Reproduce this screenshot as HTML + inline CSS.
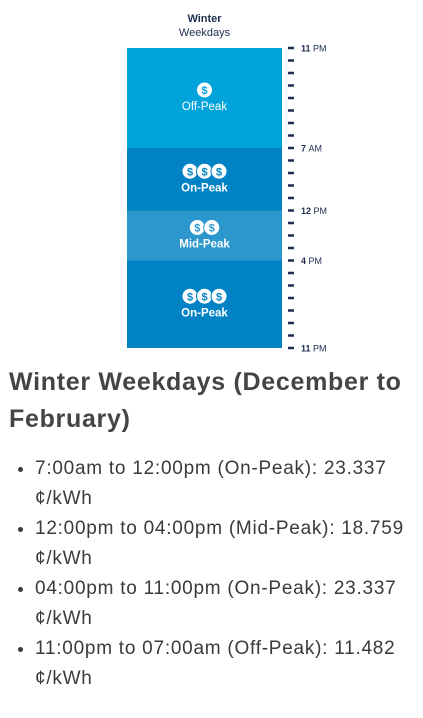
<!DOCTYPE html>
<html><head><meta charset="utf-8"><style>
body{margin:0;width:423px;height:718px;background:#fff;font-family:"Liberation Sans",sans-serif;overflow:hidden;position:relative}
#chart{position:absolute;left:0;top:0}
h2{position:absolute;left:9px;top:364px;margin:0;font-size:25px;line-height:37px;font-weight:bold;color:#444;width:410px;letter-spacing:0.7px}
ul{position:absolute;left:0;top:454px;margin:0;padding-left:35px;font-size:19px;line-height:30px;color:#3a3a3a;width:375px;letter-spacing:0.75px}
li{margin:0}
</style></head><body>
<svg id="chart" width="423" height="360"></svg>
<h2>Winter Weekdays (December to February)</h2>
<ul>
<li>7:00am to 12:00pm (On-Peak): 23.337 ¢/kWh</li>
<li>12:00pm to 04:00pm (Mid-Peak): 18.759 ¢/kWh</li>
<li>04:00pm to 11:00pm (On-Peak): 23.337 ¢/kWh</li>
<li>11:00pm to 07:00am (Off-Peak): 11.482 ¢/kWh</li>
</ul>
<script>
const segStarts=[0,8,13,17];
const segEnds=[8,13,17,24];
const segNames=["Off-Peak","On-Peak","Mid-Peak","On-Peak"];
const segCoins=[1,3,2,3];
const tickHours=[0,8,13,17,24];
const tickNums=["11","7","12","4","11"];
const tickSuffix=["PM","AM","PM","PM","PM"];
const colors={"Off-Peak":"#00a3da","On-Peak":"#0082c4","Mid-Peak":"#2b97cd"};
const NS="http://www.w3.org/2000/svg";
const svg=document.getElementById('chart');
const y0=48,pxh=12.5,x0=127,w=155;
const y=h=>y0+h*pxh;
function mk(t,a){const e=document.createElementNS(NS,t);for(const k in a)e.setAttribute(k,a[k]);svg.appendChild(e);return e;}
let t=mk('text',{x:204.5,y:22,'text-anchor':'middle','font-size':11,'font-weight':'bold',fill:'#1d2d50'});t.textContent='Winter';

t=mk('text',{x:204.5,y:36,'text-anchor':'middle','font-size':11,fill:'#1d2d50'});t.textContent='Weekdays';

segStarts.forEach((s,i)=>{
 const r=mk('rect',{x:x0,y:y(s),width:w,height:y(segEnds[i])-y(s),fill:colors[segNames[i]]});
 
 
 const cy=(y(s)+y(segEnds[i]))/2;
 const n=segCoins[i];
 for(let c=0;c<n;c++){
  const cx=x0+w/2+(c-(n-1)/2)*14.5;
  const ci=mk('circle',{cx:cx,cy:cy-8,r:8,fill:'#fff',stroke:colors[segNames[i]],'stroke-width':1});
  
  const d=mk('text',{x:cx,y:cy-4,'text-anchor':'middle','font-size':11,'font-weight':'bold',fill:colors[segNames[i]]});d.textContent='$';
 }
 const l=mk('text',{x:x0+w/2,y:cy+12,'text-anchor':'middle','font-size':11.5,fill:'#fff','font-weight':segNames[i]=='Off-Peak'?'normal':'bold'});
 l.textContent=segNames[i];
 
});
for(let h=0;h<=24;h++){
 mk('rect',{x:288,y:y(h)-1.25,width:6,height:2.5,fill:'#1d2d50'});
}
tickHours.forEach((h,i)=>{
 const tx=mk('text',{x:301,y:y(h)+3.5,'font-size':9,fill:'#1d2d50'});
 
 const a=document.createElementNS(NS,'tspan');a.setAttribute('font-weight','bold');a.textContent=tickNums[i]+' ';tx.appendChild(a);
 const b=document.createElementNS(NS,'tspan');b.textContent=tickSuffix[i];tx.appendChild(b);
});
</script>
</body></html>
